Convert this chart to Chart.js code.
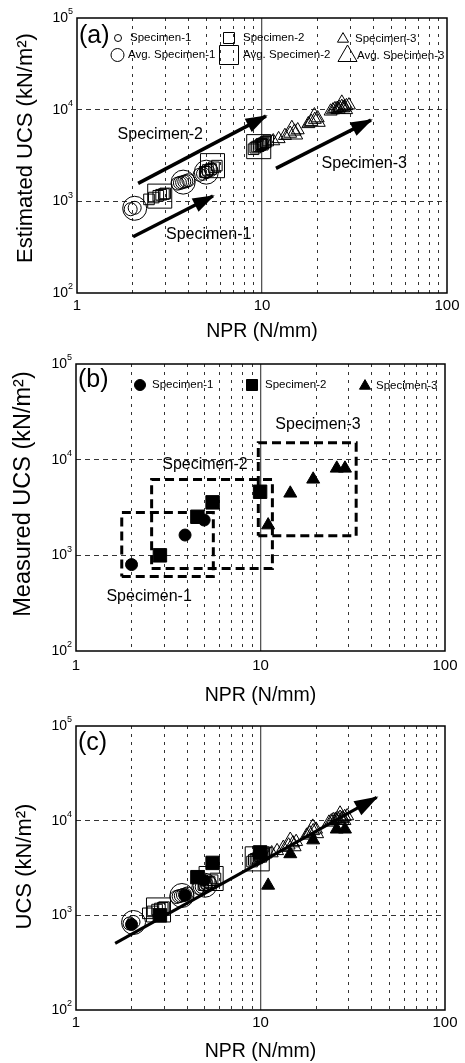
<!DOCTYPE html>
<html>
<head>
<meta charset="utf-8">
<script src="https://cdn.jsdelivr.net/npm/chart.js@4.4.0/dist/chart.umd.min.js"></script>
<style>
  body { margin: 0; background: #fff; }
  canvas { position: absolute; left: 0; }
</style>
</head>
<body>
<canvas id="chartA" width="465" height="343" style="top:0px"></canvas>
<canvas id="chartB" width="465" height="364" style="top:343px"></canvas>
<canvas id="chartC" width="465" height="356" style="top:707px"></canvas>
<script>
// axis ticks (log scales)
const xTicks = [1, 2, 3, 4, 5, 6, 7, 8, 9, 10, 20, 30, 40, 50, 60, 70, 80, 90, 100];
const xLabelled = [1, 10, 100];
const yTicks = [100, 1000, 10000, 100000];

// (a) estimated UCS, single tests
const estS1X = [1.95, 2.05, 3.5, 3.6, 3.7, 3.8, 3.9, 4.0, 4.6, 4.8, 5.0, 5.1, 5.3];
const estS1Y = [820, 850, 1560, 1590, 1610, 1640, 1660, 1700, 1950, 2000, 2080, 2150, 2200];
const estS2X = [2.45, 2.6, 2.75, 2.85, 2.95, 3.0, 4.9, 5.1, 5.3, 5.5, 5.7, 9.0, 9.2, 9.4, 9.6, 9.8, 9.9, 10.0, 10.1, 10.2, 10.4, 10.5, 10.8];
const estS2Y = [1050, 1100, 1150, 1180, 1200, 1220, 2100, 2200, 2250, 2350, 2450, 3700, 3850, 3950, 4000, 4100, 4200, 4250, 4150, 4300, 4400, 4450, 4600];
const estS3X = [11.5, 12.3, 13.3, 14.2, 15.0, 15.6, 17.8, 18.5, 19.3, 20.0, 23.5, 24.2, 24.8, 25.5, 26.0, 26.3, 27.0, 27.5, 27.8, 28.6, 29.5];
const estS3Y = [4550, 4800, 5200, 5500, 5800, 6000, 7000, 7400, 7800, 8100, 9600, 9900, 10200, 10300, 10000, 10500, 10800, 10400, 10600, 11000, 11200];

// (a) averages
const avgS1X = [2.05, 3.75, 5.0];
const avgS1Y = [840, 1620, 2080];
const avgS2X = [2.8, 5.4, 9.6];
const avgS2Y = [1140, 2450, 3950];
const avgS3X = [14.5, 19.2, 27.0];
const avgS3Y = [5600, 7700, 10600];

// (b) measured UCS
const meaS1X = [2.0, 3.9, 4.95];
const meaS1Y = [800, 1630, 2340];
const meaS2X = [2.85, 4.55, 5.5, 9.95];
const meaS2Y = [1000, 2530, 3580, 4620];
const meaS3X = [11.0, 14.5, 19.3, 25.9, 28.7];
const meaS3Y = [2070, 4450, 6230, 8110, 8110];

// trend arrows in (a), fitted arrow in (c)
const arrS1X = [2.01, 5.43], arrS1Y = [411, 1142];
const arrS2X = [2.14, 10.5], arrS2Y = [1570, 8510];
const arrS3X = [11.9, 38.8], arrS3Y = [2290, 7700];
const fitX = [1.63, 42.6], fitY = [506, 17600];

// dashed ranges in (b)
const box1X = [1.77, 5.55], box1Y = [600, 2800];
const box2X = [2.57, 11.6], box2Y = [730, 6200];
const box3X = [9.73, 33], box3Y = [1600, 15000];

// annotation texts
const noteText = ['Specimen-1', 'Specimen-2', 'Specimen-3'];
const noteAX = [5.15, 2.82, 35.7], noteAY = [429, 5290, 2550];
const noteBX = [2.49, 5.0, 20.5], noteBY = [371, 8790, 23000];

const FONT = "'Liberation Sans', Arial, Helvetica, sans-serif";

function pts(xs, ys) {
  return xs.map((x, i) => ({ x: x, y: ys[i] }));
}
function boxPath(bx, by) {
  return pts([bx[0], bx[1], bx[1], bx[0], bx[0]], [by[0], by[0], by[1], by[1], by[0]]);
}
function openSet(xs, ys, style, r) {
  return { data: pts(xs, ys), pointStyle: style, pointRadius: r, pointHoverRadius: r,
    pointBorderColor: '#000', pointBackgroundColor: 'rgba(0,0,0,0)', pointBorderWidth: 1,
    showLine: false, order: 2 };
}
function solidSet(xs, ys, style, r) {
  return { data: pts(xs, ys), pointStyle: style, pointRadius: r, pointHoverRadius: r,
    pointBorderColor: '#000', pointBackgroundColor: '#000', pointBorderWidth: 1,
    showLine: false, order: 1 };
}
function pathSet(data, w, dash, arrow) {
  return { data: data, showLine: true, pointRadius: 0, borderColor: '#000', borderWidth: w,
    borderDash: dash, borderCapStyle: 'butt', fill: false, tension: 0, arrow: arrow, order: 0 };
}

function mark(ctx, style, x, y, r, filled) {
  ctx.beginPath();
  if (style === 'circle') {
    ctx.arc(x, y, r, 0, Math.PI * 2);
  } else if (style === 'rect') {
    ctx.rect(x - r, y - r, 2 * r, 2 * r);
  } else {
    ctx.moveTo(x, y - r);
    ctx.lineTo(x + r * 0.866, y + r * 0.5);
    ctx.lineTo(x - r * 0.866, y + r * 0.5);
    ctx.closePath();
  }
  ctx.lineWidth = 1;
  ctx.strokeStyle = '#000';
  if (filled) { ctx.fillStyle = '#000'; ctx.fill(); }
  ctx.stroke();
}

const decor = {
  id: 'decor',
  afterDraw(chart, args, o) {
    const ctx = chart.ctx, a = chart.chartArea;
    const xs = chart.scales.x, ys = chart.scales.y;
    ctx.save();

    // arrow heads on flagged lines
    chart.data.datasets.forEach((ds, i) => {
      if (!ds.arrow) return;
      const el = chart.getDatasetMeta(i).data;
      const p0 = el[el.length - 2], p1 = el[el.length - 1];
      const ang = Math.atan2(p1.y - p0.y, p1.x - p0.x);
      const c = Math.cos(ang), s = Math.sin(ang);
      const tx = p1.x + 2 * c, ty = p1.y + 2 * s;
      const bx = tx - o.headLen * c, by = ty - o.headLen * s;
      ctx.beginPath();
      ctx.moveTo(tx, ty);
      ctx.lineTo(bx - o.headHalf * s, by + o.headHalf * c);
      ctx.lineTo(bx + o.headHalf * s, by - o.headHalf * c);
      ctx.closePath();
      ctx.fillStyle = '#000';
      ctx.fill();
    });

    // frame
    ctx.lineWidth = 1.5;
    ctx.strokeStyle = '#000';
    ctx.strokeRect(a.left, a.top, a.right - a.left, a.bottom - a.top);

    // y tick labels as 10 with raised exponent
    ctx.fillStyle = '#000';
    yTicks.forEach(v => {
      const y = ys.getPixelForValue(v);
      ctx.font = '14px ' + FONT;
      ctx.textAlign = 'right';
      ctx.textBaseline = 'middle';
      ctx.fillText('10', a.left - 9, y);
      ctx.font = '9px ' + FONT;
      ctx.textAlign = 'left';
      ctx.fillText(String(Math.round(Math.log10(v))), a.left - 9, y - 6);
    });

    // panel letter
    ctx.font = '25px ' + FONT;
    ctx.textAlign = 'left';
    ctx.textBaseline = 'middle';
    ctx.fillText(o.panel, a.left + 2, a.top + o.panelDy);

    // y title
    ctx.save();
    ctx.translate(o.yTitleX, o.yTitleY);
    ctx.rotate(-Math.PI / 2);
    ctx.font = o.yTitleSize + 'px ' + FONT;
    ctx.textAlign = 'center';
    ctx.textBaseline = 'middle';
    ctx.fillText(o.yTitle, 0, 0);
    ctx.restore();

    // legend
    (o.legend || []).forEach(it => {
      mark(ctx, it.style, a.left + it.dx, a.top + it.dy, it.r, it.filled);
      ctx.fillStyle = '#000';
      ctx.font = it.size + 'px ' + FONT;
      ctx.textAlign = 'left';
      ctx.textBaseline = 'middle';
      ctx.fillText(it.text, a.left + it.tx, a.top + it.dy);
    });

    // annotation texts placed in data units
    if (o.notes) {
      ctx.font = '16px ' + FONT;
      ctx.textAlign = 'center';
      ctx.textBaseline = 'middle';
      ctx.fillStyle = '#000';
      o.notes.text.forEach((t, i) => {
        ctx.fillText(t, xs.getPixelForValue(o.notes.x[i]), ys.getPixelForValue(o.notes.y[i]));
      });
    }
    ctx.restore();
  }
};

function makeChart(id, datasets, lay, deco) {
  return new Chart(document.getElementById(id), {
    type: 'scatter',
    data: { datasets: datasets },
    options: {
      responsive: false,
      animation: false,
      events: [],
      layout: { padding: { top: lay.top, right: lay.right, left: 0, bottom: 0 } },
      plugins: { legend: { display: false }, tooltip: { enabled: false }, decor: deco },
      scales: {
        x: {
          type: 'logarithmic', min: 1, max: 100,
          afterBuildTicks: s => { s.ticks = xTicks.map(v => ({ value: v })); },
          afterFit: s => { s.height = lay.xAxisH; },
          grid: {
            drawTicks: false,
            color: c => (c.tick.value === 1 || c.tick.value === 100) ? 'rgba(0,0,0,0)' : (c.tick.value === 10 ? '#555' : '#333'),
            lineWidth: c => c.tick.value === 10 ? 1.3 : 1
          },
          border: { display: false, dash: c => c.tick && c.tick.value === 10 ? [] : [3, 5] },
          ticks: {
            autoSkip: false, maxRotation: 0, padding: lay.tickPad, color: '#000',
            font: { family: FONT, size: 15 },
            callback: v => xLabelled.includes(v) ? String(v) : ''
          },
          title: { display: true, text: 'NPR (N/mm)', color: '#000', font: { family: FONT, size: 19.5 }, padding: 0 }
        },
        y: {
          type: 'logarithmic', min: 100, max: 100000,
          afterBuildTicks: s => { s.ticks = yTicks.map(v => ({ value: v })); },
          afterFit: s => { s.width = lay.yAxisW; },
          grid: {
            drawTicks: false,
            color: c => (c.tick.value === 100 || c.tick.value === 100000) ? 'rgba(0,0,0,0)' : '#333',
            lineWidth: 1
          },
          border: { display: false, dash: [5, 4] },
          ticks: { display: false }
        }
      }
    },
    plugins: [decor]
  });
}

function openMarkers() {
  return [
    openSet(estS1X, estS1Y, 'circle', 6.5),
    openSet(avgS1X, avgS1Y, 'circle', 12),
    openSet(estS2X, estS2Y, 'rect', 7.5),
    openSet(avgS2X, avgS2Y, 'rect', 17),
    openSet(estS3X, estS3Y, 'triangle', 7.5),
    openSet(avgS3X, avgS3Y, 'triangle', 12.5)
  ];
}
function solidMarkers() {
  return [
    solidSet(meaS1X, meaS1Y, 'circle', 6),
    solidSet(meaS2X, meaS2Y, 'rect', 9.5),
    solidSet(meaS3X, meaS3Y, 'triangle', 7.5)
  ];
}

makeChart('chartA',
  openMarkers().concat([
    pathSet(pts(arrS1X, arrS1Y), 3.5, [], true),
    pathSet(pts(arrS2X, arrS2Y), 3.5, [], true),
    pathSet(pts(arrS3X, arrS3Y), 3.5, [], true)
  ]),
  { top: 18, right: 17, xAxisH: 50, yAxisW: 77, tickPad: 3.5 },
  {
    panel: '(a)', panelDy: 18, headLen: 22, headHalf: 7.5,
    yTitle: 'Estimated UCS (kN/m\u00b2)', yTitleX: 25.5, yTitleY: 148, yTitleSize: 22,
    legend: [
      { style: 'circle', r: 3.5, dx: 41, dy: 20, tx: 53, text: 'Specimen-1', size: 11.5 },
      { style: 'rect', r: 5.5, dx: 152, dy: 20, tx: 166, text: 'Specimen-2', size: 11.5 },
      { style: 'triangle', r: 6.4, dx: 266, dy: 21, tx: 278, text: 'Specimen-3', size: 11.5 },
      { style: 'circle', r: 6.5, dx: 40.5, dy: 37, tx: 51, text: 'Avg. Specimen-1', size: 11.5 },
      { style: 'rect', r: 9.5, dx: 152, dy: 37, tx: 166, text: 'Avg. Specimen-2', size: 11.5 },
      { style: 'triangle', r: 11, dx: 270.5, dy: 38, tx: 280, text: 'Avg. Specimen-3', size: 11.5 }
    ],
    notes: { text: noteText, x: noteAX, y: noteAY }
  });

makeChart('chartB',
  solidMarkers().concat([
    pathSet(boxPath(box1X, box1Y), 3, [9, 5], false),
    pathSet(boxPath(box2X, box2Y), 3, [9, 5], false),
    pathSet(boxPath(box3X, box3Y), 3, [9, 5], false)
  ]),
  { top: 21, right: 20, xAxisH: 56, yAxisW: 76, tickPad: 6 },
  {
    panel: '(b)', panelDy: 16, headLen: 22, headHalf: 7.5,
    yTitle: 'Measured UCS (kN/m\u00b2)', yTitleX: 24, yTitleY: 151, yTitleSize: 23.5,
    legend: [
      { style: 'circle', r: 5.5, filled: true, dx: 64, dy: 21, tx: 76, text: 'Specimen-1', size: 11.5 },
      { style: 'rect', r: 5.5, filled: true, dx: 176, dy: 21, tx: 189, text: 'Specimen-2', size: 11.5 },
      { style: 'triangle', r: 6.4, filled: true, dx: 289, dy: 22, tx: 300, text: 'Specimen-3', size: 11.5 }
    ],
    notes: { text: noteText, x: noteBX, y: noteBY }
  });

makeChart('chartC',
  openMarkers().concat(solidMarkers(), [pathSet(pts(fitX, fitY), 3, [], true)]),
  { top: 19, right: 20, xAxisH: 53, yAxisW: 76, tickPad: 3.5 },
  {
    panel: '(c)', panelDy: 17, headLen: 24, headHalf: 8,
    yTitle: 'UCS (kN/m\u00b2)', yTitleX: 24.5, yTitleY: 159.5, yTitleSize: 22
  });
</script>
</body>
</html>
